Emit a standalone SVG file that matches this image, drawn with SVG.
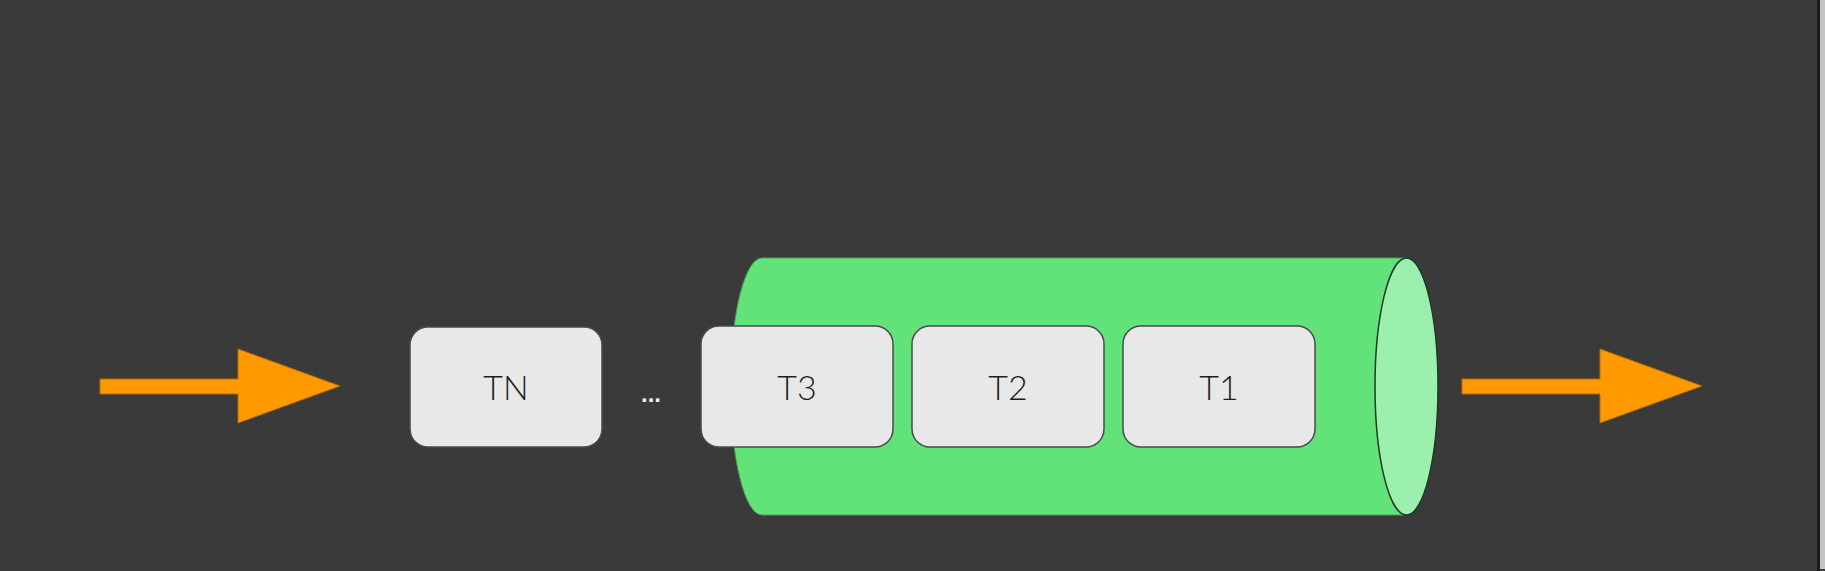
<svg xmlns="http://www.w3.org/2000/svg" width="1825" height="571" viewBox="0 0 1825 571">
<style>
.box{fill:#e8e8e8;stroke:#4a4a4a;stroke-width:1.5}
.lbl{font-family:Lato,"Liberation Sans",Arial,sans-serif;font-weight:300;font-size:34px;fill:#1e1e1e;text-anchor:middle}
.arrow{fill:#ff9900;stroke:#b86e00;stroke-width:1}
</style>
<rect x="0" y="0" width="1825" height="571" fill="#3a3a3a"/>
<rect x="1817" y="0" width="3" height="571" fill="#1c1c1c"/>
<rect x="1820" y="0" width="5" height="569" fill="#c4c4c4"/>
<g id="queue">
<path d="M762,258 L1406,258 L1406,515 L762,515 A31.5,128.5 0 0 1 762,258 Z" fill="#62e37a" stroke="#4b9e5c" stroke-width="1"/>
<ellipse cx="1406.5" cy="386.5" rx="31.5" ry="128.5" fill="#9cf0ae" stroke="#1f3a25" stroke-width="1.5"/>
</g>
<g id="connectors">
<polygon class="arrow" points="100,379 238,379 238,349 340,386 238,423 238,394 100,394"/>
<polygon class="arrow" points="1462,379 1600,379 1600,349 1702,386 1600,423 1600,394 1462,394"/>
</g>
<g id="tn">
<rect class="box" x="410" y="327" width="192" height="120" rx="18" stroke="#5a5a5a"/>
<text class="lbl" x="506" y="400">TN</text>
</g>
<g id="dots">
<text x="651" y="402" font-family="Liberation Sans,Arial,sans-serif" font-weight="bold" font-size="24" fill="#f0f0f0" text-anchor="middle">...</text>
</g>
<g id="t3">
<rect class="box" x="701" y="326" width="192" height="121" rx="18"/>
<text class="lbl" x="797" y="400">T3</text>
</g>
<g id="t2">
<rect class="box" x="912" y="326" width="192" height="121" rx="18"/>
<text class="lbl" x="1008" y="400">T2</text>
</g>
<g id="t1">
<rect class="box" x="1123" y="326" width="192" height="121" rx="18"/>
<text class="lbl" x="1219" y="400">T1</text>
</g>
</svg>
